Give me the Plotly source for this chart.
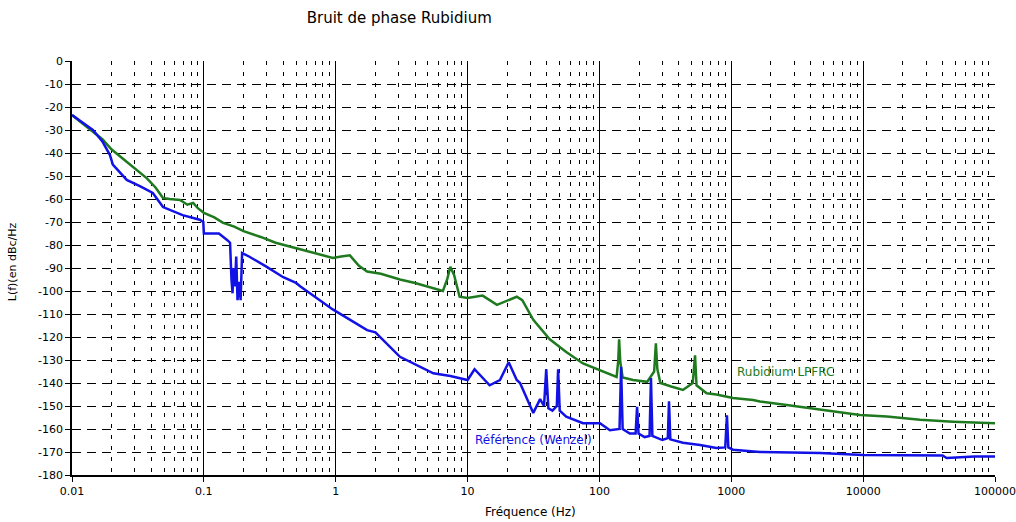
import plotly.graph_objects as go

# ---- data ----
green_f = [0.01, 0.012, 0.014, 0.017, 0.02, 0.025, 0.031, 0.037, 0.043, 0.049, 0.055, 0.066, 0.075, 0.083,
           0.09, 0.1, 0.12, 0.14, 0.17, 0.2, 0.27, 0.35, 0.47, 0.64, 0.8, 0.95, 1.1, 1.28, 1.5, 1.73, 2.2,
           3.07, 4, 5.5, 6.5, 7.0, 7.4, 7.9, 8.7, 10, 13, 16.7, 20, 23.6, 26, 31.5, 42, 56, 75, 95, 120,
           135, 139, 141, 144, 150, 180, 230, 260, 268, 275, 290, 350, 430, 510, 531, 545, 650, 770, 1030,
           1463, 1650, 2630, 4710, 9460, 15140, 27000, 48000, 100000]
green_db = [-23.5, -27, -30, -34, -38.5, -43, -47.4, -51, -55, -59.6, -60, -60.4, -62.5, -61.7,
            -64, -66, -68, -70.4, -72, -74, -76.5, -79, -81, -83, -84.5, -85.6, -85, -84.5, -89, -91.5, -92.5,
            -95, -96.5, -99, -100, -95, -89.5, -93, -102.5, -103, -102, -106, -104, -102.5, -104, -112.5, -121,
            -126.5, -131.5, -134, -136.5, -137.4, -130, -121, -131, -137.6, -138.7, -139.5, -135, -122.7, -134,
            -140, -141.5, -143, -140, -128, -141, -144.5, -145, -146.5, -147.4, -148, -149.6, -151.7, -153.9,
            -154.6, -156, -156.8, -157.5]

blue_f = [0.01, 0.0144, 0.017, 0.0194, 0.0204, 0.026, 0.033, 0.041, 0.049, 0.069, 0.093, 0.099, 0.1, 0.13,
          0.15, 0.158, 0.162, 0.165, 0.168, 0.172, 0.176, 0.18, 0.186, 0.19, 0.195, 0.22, 0.3, 0.4, 0.5, 0.54,
          0.95, 1.73, 2.0, 3.07, 5.5, 7.4, 10, 11.3, 14.7, 17.6, 20.5, 23.6, 25, 31.5, 35.5, 38, 39.5, 41, 44,
          47.5, 48.6, 50, 56, 75, 101, 120, 142, 146, 150, 170, 188, 193, 198, 220, 240, 246, 252, 300, 330,
          337, 345, 430, 580, 770, 900, 927, 950, 1030, 1650, 4710, 10000, 27000, 40000, 43000, 70000, 100000]
blue_db = [-23.5, -30, -35, -40.9, -45, -51.7, -54.5, -57.4, -63.5, -67, -69, -70, -75, -75,
           -77.8, -79, -95, -101, -90, -98, -85, -104, -96, -104, -83.5, -85, -89.5, -94, -96.5, -98,
           -108, -117, -118, -128.6, -135.8, -137, -138.7, -134, -141, -138.7, -131, -138.7, -140, -153, -147,
           -150, -134, -151, -152, -150, -134, -152, -154.6, -157.5, -157.5, -160.5, -160, -133, -160, -162,
           -162, -150.4, -162, -163.5, -163, -137.8, -163, -164.8, -164, -148, -164.5, -166, -167, -168.3,
           -168, -154, -168, -169, -170, -170.4, -171.3, -171.3, -171.5, -172.6, -172, -172]

x_ticks = [0.01, 0.1, 1, 10, 100, 1000, 10000, 100000]
x_tick_text = ["0.01", "0.1", "1", "10", "100", "1000", "10000", "100000"]
y_ticks = list(range(0, -181, -10))
y_tick_text = [str(v) for v in y_ticks]

FONT = "DejaVu Sans, Liberation Sans, Arial, sans-serif"
GREEN = "#1f7a1f"
BLUE = "#1212e6"

fig = go.Figure()
fig.add_trace(go.Scatter(x=green_f, y=green_db, mode="lines",
                         line=dict(color=GREEN, width=2.5), name="Rubidium LPFRC"))
fig.add_trace(go.Scatter(x=blue_f, y=blue_db, mode="lines",
                         line=dict(color=BLUE, width=2.5), name="Référence (Wenzel)"))

fig.add_annotation(x=3.03, y=-135.2, xref="x", yref="y", text="Rubidium LPFRC",
                   showarrow=False, xanchor="left", yanchor="middle",
                   font=dict(family=FONT, size=12, color=GREEN))
fig.add_annotation(x=1.04, y=-164.8, xref="x", yref="y", text="Référence (Wenzel)",
                   showarrow=False, xanchor="left", yanchor="middle",
                   font=dict(family=FONT, size=12, color=BLUE))
# axis titles
fig.add_annotation(x=0.497, y=-0.089, xref="paper", yref="paper", text="Fréquence (Hz)",
                   showarrow=False, xanchor="center", yanchor="middle",
                   font=dict(family=FONT, size=12, color="black"))
fig.add_annotation(x=-0.065, y=0.514, xref="paper", yref="paper", text="L(f)(en dBc/Hz",
                   showarrow=False, xanchor="center", yanchor="middle", textangle=-90,
                   font=dict(family=FONT, size=11, color="black"))

fig.update_layout(
    width=1016, height=522,
    margin=dict(l=72, r=21, t=61, b=47, autoexpand=False),
    paper_bgcolor="white", plot_bgcolor="white",
    showlegend=False,
    font=dict(family=FONT, size=11, color="black"),
    title=dict(text="Bruit de phase Rubidium", x=0.393, xanchor="center", y=0.966, yanchor="middle",
               font=dict(family=FONT, size=15, color="black")),
)
fig.update_xaxes(
    type="log", range=[-2, 5], automargin=False,
    tickvals=x_ticks, ticktext=x_tick_text,
    showgrid=True, gridcolor="black", gridwidth=1,
    showline=True, linecolor="black", linewidth=1.5,
    ticks="outside", ticklen=5, tickcolor="black",
    minor=dict(showgrid=True, gridcolor="black", gridwidth=1, griddash="4px,7px",
               ticks="", dtick="D1"),
    tickfont=dict(size=11),
    zeroline=False,
)
fig.update_yaxes(
    range=[-180, 0], automargin=False,
    tickvals=y_ticks, ticktext=y_tick_text,
    showgrid=True, gridcolor="black", gridwidth=1, griddash="9px,6px",
    showline=True, linecolor="black", linewidth=1.5,
    ticks="outside", ticklen=5, tickcolor="black",
    tickfont=dict(size=11),
    zeroline=False,
)

fig.write_html(
    "out.html",
    config={"responsive": False, "displayModeBar": False},
    post_script="document.body.style.margin='0px';"
                "document.documentElement.style.overflow='hidden';"
                "document.body.style.overflow='hidden';",
)
